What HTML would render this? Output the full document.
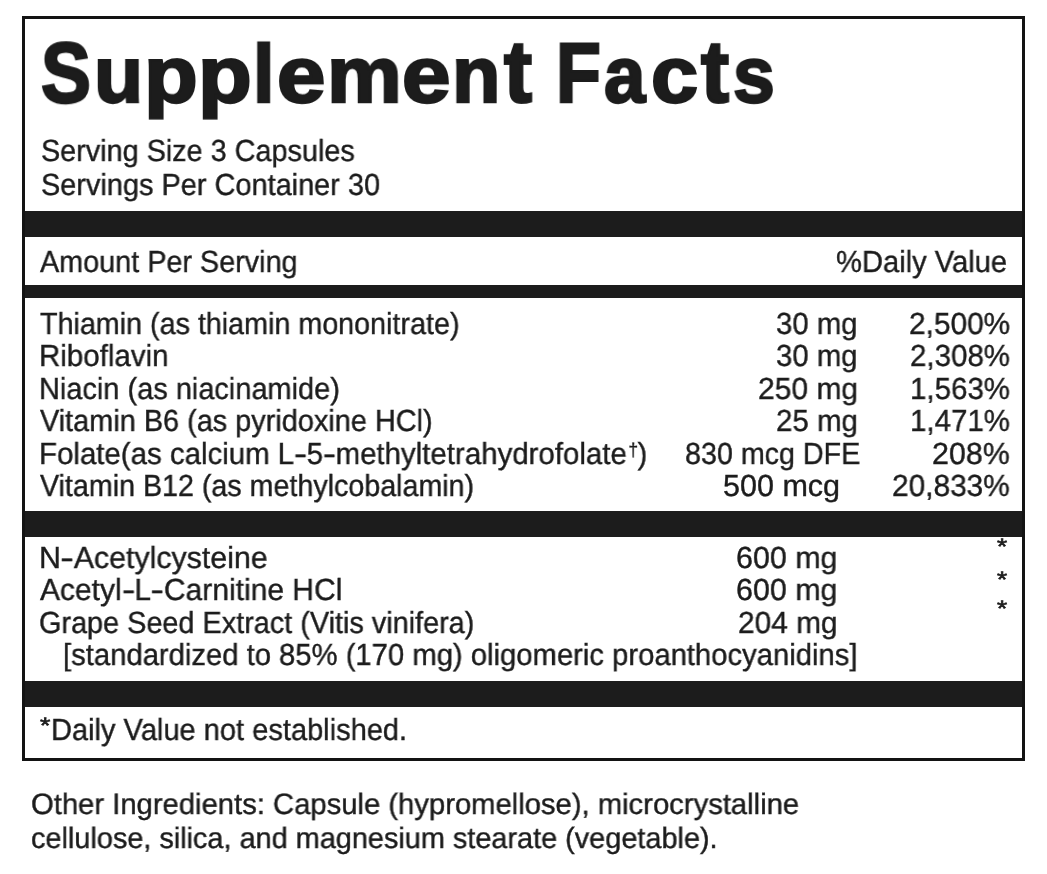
<!DOCTYPE html>
<html><head><meta charset="utf-8"><style>
html,body{margin:0;padding:0;background:#fff;width:1047px;height:874px;overflow:hidden;position:relative}
.t{position:absolute;white-space:nowrap;line-height:0;text-rendering:geometricPrecision;font-family:"Liberation Sans",sans-serif;color:#1c1c1c;transform-origin:0 0;will-change:transform}
.b{font-weight:bold}
.box{position:absolute;left:22px;top:16px;width:997px;height:739px;border:3px solid #131313}
.bar{position:absolute;left:25px;width:997px;background:#1c1c1c}
  .hy{display:inline-block;transform:scaleX(1.35);margin:0 1.4px}
sup{font-size:60%;line-height:0;vertical-align:baseline;position:relative;top:-0.46em;margin-left:1.5px;margin-right:-0.5px}
</style></head><body>

<div class="box"></div>
<div class="bar" style="top:211px;height:26px"></div>
<div class="bar" style="top:285px;height:13px"></div>
<div class="bar" style="top:511px;height:26px"></div>
<div class="bar" style="top:681px;height:26px"></div>

<div class="t" style="left:41.10px;top:151.22px;font-size:30.52px;transform:scaleX(0.9437);-webkit-text-stroke:0.4px #1c1c1c">Serving Size 3 Capsules</div>
<div class="t" style="left:41.10px;top:185.22px;font-size:30.52px;transform:scaleX(0.9473);-webkit-text-stroke:0.4px #1c1c1c">Servings Per Container 30</div>
<div class="t" style="left:40.00px;top:262.22px;font-size:30.52px;transform:scaleX(0.9432);-webkit-text-stroke:0.4px #1c1c1c">Amount Per Serving</div>
<div class="t" style="left:836.09px;top:262.22px;font-size:30.52px;transform:scaleX(0.9544);-webkit-text-stroke:0.4px #1c1c1c">%Daily Value</div>
<div class="t" style="left:39.55px;top:324.22px;font-size:30.52px;transform:scaleX(0.9404);-webkit-text-stroke:0.4px #1c1c1c">Thiamin (as thiamin mononitrate)</div>
<div class="t" style="left:38.99px;top:356.22px;font-size:30.52px;transform:scaleX(0.9667);-webkit-text-stroke:0.4px #1c1c1c">Riboflavin</div>
<div class="t" style="left:39.04px;top:389.22px;font-size:30.52px;transform:scaleX(0.9487);-webkit-text-stroke:0.4px #1c1c1c">Niacin (as niacinamide)</div>
<div class="t" style="left:39.60px;top:421.22px;font-size:30.52px;transform:scaleX(0.9462);-webkit-text-stroke:0.4px #1c1c1c">Vitamin B6 (as pyridoxine HCl)</div>
<div class="t" style="left:39.00px;top:453.72px;font-size:30.52px;transform:scaleX(0.9645);-webkit-text-stroke:0.4px #1c1c1c">Folate(as calcium L<span class=hy>-</span>5<span class=hy>-</span>methyltetrahydrofolate<sup>†</sup>)</div>
<div class="t" style="left:39.60px;top:486.22px;font-size:30.52px;transform:scaleX(0.9386);-webkit-text-stroke:0.4px #1c1c1c">Vitamin B12 (as methylcobalamin)</div>
<div class="t" style="left:776.08px;top:324.22px;font-size:30.52px;transform:scaleX(0.9615);-webkit-text-stroke:0.4px #1c1c1c">30 mg</div>
<div class="t" style="left:776.08px;top:356.22px;font-size:30.52px;transform:scaleX(0.9615);-webkit-text-stroke:0.4px #1c1c1c">30 mg</div>
<div class="t" style="left:757.59px;top:389.22px;font-size:30.52px;transform:scaleX(0.9831);-webkit-text-stroke:0.4px #1c1c1c">250 mg</div>
<div class="t" style="left:775.71px;top:421.22px;font-size:30.52px;transform:scaleX(0.9660);-webkit-text-stroke:0.4px #1c1c1c">25 mg</div>
<div class="t" style="left:684.70px;top:453.72px;font-size:30.52px;transform:scaleX(0.9395);-webkit-text-stroke:0.4px #1c1c1c">830 mcg DFE</div>
<div class="t" style="left:722.85px;top:486.22px;font-size:30.52px;transform:scaleX(1.0000);-webkit-text-stroke:0.4px #1c1c1c">500 mcg</div>
<div class="t" style="left:909.30px;top:324.22px;font-size:30.52px;transform:scaleX(0.9774);-webkit-text-stroke:0.4px #1c1c1c">2,500%</div>
<div class="t" style="left:910.48px;top:356.22px;font-size:30.52px;transform:scaleX(0.9660);-webkit-text-stroke:0.4px #1c1c1c">2,308%</div>
<div class="t" style="left:910.48px;top:389.22px;font-size:30.52px;transform:scaleX(0.9660);-webkit-text-stroke:0.4px #1c1c1c">1,563%</div>
<div class="t" style="left:910.48px;top:421.22px;font-size:30.52px;transform:scaleX(0.9660);-webkit-text-stroke:0.4px #1c1c1c">1,471%</div>
<div class="t" style="left:931.58px;top:453.72px;font-size:30.52px;transform:scaleX(0.9957);-webkit-text-stroke:0.4px #1c1c1c">208%</div>
<div class="t" style="left:891.50px;top:486.22px;font-size:30.52px;transform:scaleX(0.9775);-webkit-text-stroke:0.4px #1c1c1c">20,833%</div>
<div class="t" style="left:38.73px;top:558.22px;font-size:30.52px;transform:scaleX(0.9944);-webkit-text-stroke:0.4px #1c1c1c">N<span class=hy>-</span>Acetylcysteine</div>
<div class="t" style="left:39.90px;top:590.22px;font-size:30.52px;transform:scaleX(0.9833);-webkit-text-stroke:0.4px #1c1c1c">Acetyl<span class=hy>-</span>L<span class=hy>-</span>Carnitine HCl</div>
<div class="t" style="left:38.85px;top:622.72px;font-size:30.52px;transform:scaleX(0.9449);-webkit-text-stroke:0.4px #1c1c1c">Grape Seed Extract (Vitis vinifera)</div>
<div class="t" style="left:63.37px;top:655.02px;font-size:30.52px;transform:scaleX(0.9578);-webkit-text-stroke:0.4px #1c1c1c">[standardized to 85% (170 mg) oligomeric proanthocyanidins]</div>
<div class="t" style="left:735.77px;top:558.22px;font-size:30.52px;transform:scaleX(0.9963);-webkit-text-stroke:0.4px #1c1c1c">600 mg</div>
<div class="t" style="left:735.77px;top:590.22px;font-size:30.52px;transform:scaleX(0.9963);-webkit-text-stroke:0.4px #1c1c1c">600 mg</div>
<div class="t" style="left:737.60px;top:622.72px;font-size:30.52px;transform:scaleX(0.9781);-webkit-text-stroke:0.4px #1c1c1c">204 mg</div>
<div class="t" style="left:50.83px;top:730.22px;font-size:30.52px;transform:scaleX(0.9513);-webkit-text-stroke:0.4px #1c1c1c">Daily Value not established.</div>
<div class="t" style="left:30.93px;top:804.58px;font-size:29.51px;transform:scaleX(0.9905);-webkit-text-stroke:0.4px #1c1c1c">Other Ingredients: Capsule (hypromellose), microcrystalline</div>
<div class="t" style="left:31.40px;top:838.58px;font-size:29.51px;transform:scaleX(0.9783);-webkit-text-stroke:0.4px #1c1c1c">cellulose, silica, and magnesium stearate (vegetable).</div>
<div class="t b" style="left:40.98px;top:72.54px;font-size:84.59px;transform-origin:0 29.31px;transform:scale(0.8834,1.01);-webkit-text-stroke:2.6px #1c1c1c">S</div>
<div class="t b" style="left:94.37px;top:72.54px;font-size:84.59px;transform-origin:0 29.31px;transform:scale(0.9488,0.935);-webkit-text-stroke:2.6px #1c1c1c">u</div>
<div class="t b" style="left:144.25px;top:72.54px;font-size:84.59px;transform-origin:0 29.31px;transform:scale(1.0407,0.935);-webkit-text-stroke:2.6px #1c1c1c">p</div>
<div class="t b" style="left:198.35px;top:72.54px;font-size:84.59px;transform-origin:0 29.31px;transform:scale(1.0407,0.935);-webkit-text-stroke:2.6px #1c1c1c">p</div>
<div class="t b" style="left:252.97px;top:72.54px;font-size:84.59px;transform-origin:0 29.31px;transform:scale(0.9104,0.97);-webkit-text-stroke:2.6px #1c1c1c">l</div>
<div class="t b" style="left:276.62px;top:72.54px;font-size:84.59px;transform-origin:0 29.31px;transform:scale(1.0290,0.935);-webkit-text-stroke:2.6px #1c1c1c">e</div>
<div class="t b" style="left:326.84px;top:72.54px;font-size:84.59px;transform-origin:0 29.31px;transform:scale(0.9931,0.935);-webkit-text-stroke:2.6px #1c1c1c">m</div>
<div class="t b" style="left:401.51px;top:72.54px;font-size:84.59px;transform-origin:0 29.31px;transform:scale(1.0313,0.935);-webkit-text-stroke:2.6px #1c1c1c">e</div>
<div class="t b" style="left:452.17px;top:72.54px;font-size:84.59px;transform-origin:0 29.31px;transform:scale(0.9355,0.935);-webkit-text-stroke:2.6px #1c1c1c">n</div>
<div class="t b" style="left:504.49px;top:72.54px;font-size:84.59px;transform-origin:0 29.31px;transform:scale(0.9915,1.04);-webkit-text-stroke:2.6px #1c1c1c">t</div>
<div class="t b" style="left:555.94px;top:72.54px;font-size:84.59px;transform-origin:0 29.31px;transform:scale(0.8676,1.0);-webkit-text-stroke:2.6px #1c1c1c">F</div>
<div class="t b" style="left:603.88px;top:72.54px;font-size:84.59px;transform-origin:0 29.31px;transform:scale(0.8780,0.935);-webkit-text-stroke:2.6px #1c1c1c">a</div>
<div class="t b" style="left:651.05px;top:72.54px;font-size:84.59px;transform-origin:0 29.31px;transform:scale(1.0023,0.935);-webkit-text-stroke:2.6px #1c1c1c">c</div>
<div class="t b" style="left:701.39px;top:72.54px;font-size:84.59px;transform-origin:0 29.31px;transform:scale(0.9915,1.04);-webkit-text-stroke:2.6px #1c1c1c">t</div>
<div class="t b" style="left:733.11px;top:72.54px;font-size:84.59px;transform-origin:0 29.31px;transform:scale(0.8881,0.935);-webkit-text-stroke:2.6px #1c1c1c">s</div>
<div class="t" style="left:997.15px;top:547.45px;font-size:22.5px;transform:scaleX(1.1585);-webkit-text-stroke:0.7px #1c1c1c">*</div>
<div class="t" style="left:997.15px;top:579.90px;font-size:22.5px;transform:scaleX(1.1585);-webkit-text-stroke:0.7px #1c1c1c">*</div>
<div class="t" style="left:997.15px;top:609.00px;font-size:22.5px;transform:scaleX(1.1585);-webkit-text-stroke:0.7px #1c1c1c">*</div>
<div class="t" style="left:39.85px;top:725.80px;font-size:22.5px;transform:scaleX(1.1829);-webkit-text-stroke:0.7px #1c1c1c">*</div>
</body></html>
